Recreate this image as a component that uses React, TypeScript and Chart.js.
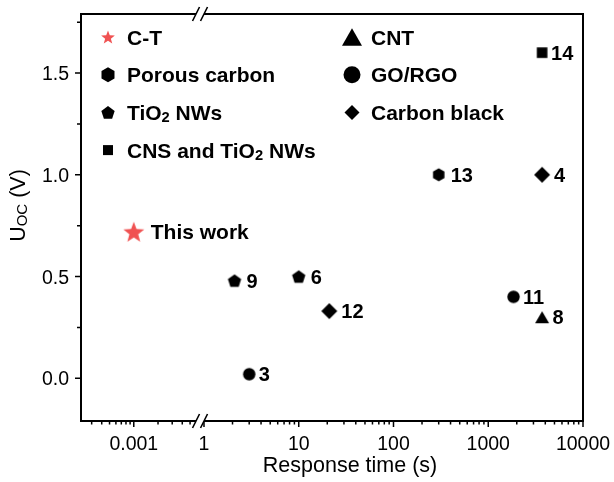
import React, { useEffect, useRef } from 'react';
import { Chart, registerables } from 'chart.js';

Chart.register(...registerables);

// ---------------- data ----------------
const categories = ['C-T', 'Porous carbon', 'TiO₂ NWs', 'CNS and TiO₂ NWs', 'CNT', 'GO/RGO', 'Carbon black'];

const ctTime = [0.001];
const ctUoc = [0.72];
const ctRefs = ['This work'];

const porousTime = [300];
const porousUoc = [1.0];
const porousRefs = ['13'];

const tio2Time = [2.1, 10];
const tio2Uoc = [0.48, 0.5];
const tio2Refs = ['9', '6'];

const cnsTime = [3700];
const cnsUoc = [1.6];
const cnsRefs = ['14'];

const cntTime = [3700];
const cntUoc = [0.3];
const cntRefs = ['8'];

const goTime = [3, 1850];
const goUoc = [0.02, 0.4];
const goRefs = ['3', '11'];

const cbTime = [3700, 21];
const cbUoc = [1.0, 0.33];
const cbRefs = ['4', '12'];

const xMajorTicks = [0.001, 1, 10, 100, 1000, 10000];
const xTickLabels = ['0.001', '1', '10', '100', '1000', '10000'];
const xLeftMinorTicks = [0.0003, 0.0004, 0.0005, 0.0006, 0.0007, 0.0008, 0.0009, 0.002, 0.003, 0.004, 0.005];
const xRightMantissas = [2, 3, 4, 5, 6, 7, 8, 9];
const xRightDecades = [1, 10, 100, 1000];
const yMajorTicks = [0, 0.5, 1, 1.5];
const yTickLabels = ['0.0', '0.5', '1.0', '1.5'];
const yMinorTicks = [0.25, 0.75, 1.25, 1.75];
const xAxisTitle = 'Response time (s)';
const yAxisTitle = [
  { t: 'U', sub: false },
  { t: 'OC', sub: true },
  { t: ' (V)', sub: false },
];

// ---------------- broken log axis transform ----------------
const LEFT_ANCHOR = -0.741; // position of 0.001 on the transformed axis
const LEFT_DECADE = 0.85; // left segment decade width (relative)
const BREAK_T = -0.042;
const X_MIN = -1.298;
const X_MAX = 4.0;
const Y_MIN = -0.21;
const Y_MAX = 1.79;

function tx(v: number): number {
  if (v < 0.05) return LEFT_ANCHOR + (Math.log10(v) + 3) * LEFT_DECADE;
  return Math.log10(v);
}

// ---------------- styles ----------------
const FONT = '"Liberation Sans", Arial, Helvetica, sans-serif';

type Shape = 'star' | 'hexagon' | 'pentagon' | 'square' | 'triangle' | 'circle' | 'diamond';
const styles: { shape: Shape; color: string; r: number; lr: number; gap: number; lfont: number }[] = [
  { shape: 'star', color: '#F05252', r: 11, lr: 7.2, gap: 17, lfont: 21 },
  { shape: 'hexagon', color: '#000000', r: 6.6, lr: 7.5, gap: 12, lfont: 20 },
  { shape: 'pentagon', color: '#000000', r: 7, lr: 7, gap: 12, lfont: 20 },
  { shape: 'square', color: '#000000', r: 5.3, lr: 5, gap: 9, lfont: 20 },
  { shape: 'triangle', color: '#000000', r: 7, lr: 10, gap: 10.5, lfont: 20 },
  { shape: 'circle', color: '#000000', r: 6.2, lr: 8.5, gap: 9.5, lfont: 20 },
  { shape: 'diamond', color: '#000000', r: 8, lr: 7.5, gap: 12, lfont: 20 },
];

function drawMarker(ctx: CanvasRenderingContext2D, shape: Shape, x: number, y: number, r: number, color: string) {
  ctx.save();
  ctx.fillStyle = color;
  ctx.beginPath();
  if (shape === 'star') {
    for (let i = 0; i < 10; i++) {
      const ang = -Math.PI / 2 + (i * Math.PI) / 5;
      const rad = i % 2 === 0 ? r : r * 0.42;
      const px = x + rad * Math.cos(ang);
      const py = y + rad * Math.sin(ang) + r * 0.1;
      if (i === 0) ctx.moveTo(px, py);
      else ctx.lineTo(px, py);
    }
  } else if (shape === 'hexagon' || shape === 'pentagon') {
    const n = shape === 'hexagon' ? 6 : 5;
    const dy = shape === 'pentagon' ? r * 0.1 : 0;
    for (let i = 0; i < n; i++) {
      const ang = -Math.PI / 2 + (i * 2 * Math.PI) / n;
      const px = x + r * Math.cos(ang);
      const py = y + r * Math.sin(ang) + dy;
      if (i === 0) ctx.moveTo(px, py);
      else ctx.lineTo(px, py);
    }
  } else if (shape === 'square') {
    ctx.rect(x - r, y - r, 2 * r, 2 * r);
  } else if (shape === 'triangle') {
    const h = r * 1.732;
    ctx.moveTo(x, y - h / 2);
    ctx.lineTo(x + r, y + h / 2);
    ctx.lineTo(x - r, y + h / 2);
  } else if (shape === 'circle') {
    ctx.arc(x, y, r, 0, Math.PI * 2);
  } else if (shape === 'diamond') {
    ctx.moveTo(x, y - r);
    ctx.lineTo(x + r, y);
    ctx.lineTo(x, y + r);
    ctx.lineTo(x - r, y);
  }
  ctx.closePath();
  ctx.fill();
  ctx.restore();
}

function markerCanvas(shape: Shape, r: number, color: string): HTMLCanvasElement {
  const size = Math.ceil(r * 2 + 4);
  const c = document.createElement('canvas');
  c.width = size;
  c.height = size;
  const cx = c.getContext('2d')!;
  drawMarker(cx, shape, size / 2, size / 2, r, color);
  return c;
}

const SUBS = '₀₁₂₃₄₅₆₇₈₉';
function toSegs(s: string): { t: string; sub: boolean }[] {
  const out: { t: string; sub: boolean }[] = [];
  for (const ch of s) {
    const i = SUBS.indexOf(ch);
    const sub = i >= 0;
    const c = sub ? String(i) : ch;
    const last = out[out.length - 1];
    if (last && last.sub === sub) last.t += c;
    else out.push({ t: c, sub });
  }
  return out;
}

function drawRich(
  ctx: CanvasRenderingContext2D,
  segs: { t: string; sub: boolean }[],
  x: number,
  y: number,
  size: number,
  weight: string,
  align: 'left' | 'center',
  subDrop: number,
) {
  const subSize = size * 0.7;
  const widths = segs.map((s) => {
    ctx.font = `${weight} ${s.sub ? subSize : size}px ${FONT}`;
    return ctx.measureText(s.t).width;
  });
  const total = widths.reduce((a, b) => a + b, 0);
  let cx = align === 'center' ? x - total / 2 : x;
  ctx.textAlign = 'left';
  ctx.textBaseline = 'alphabetic';
  segs.forEach((s, i) => {
    ctx.font = `${weight} ${s.sub ? subSize : size}px ${FONT}`;
    ctx.fillText(s.t, cx, s.sub ? y + subDrop : y);
    cx += widths[i];
  });
}

const seriesTimes = [ctTime, porousTime, tio2Time, cnsTime, cntTime, goTime, cbTime];
const seriesUocs = [ctUoc, porousUoc, tio2Uoc, cnsUoc, cntUoc, goUoc, cbUoc];
const seriesRefs = [ctRefs, porousRefs, tio2Refs, cnsRefs, cntRefs, goRefs, cbRefs];

const decorPlugin = {
  id: 'decor',
  afterDatasetsDraw(chart: any) {
    const { ctx, chartArea: a, scales } = chart;
    const xs = scales.x;
    const ys = scales.y;
    ctx.save();
    ctx.fillStyle = '#000';

    // point labels
    chart.data.datasets.forEach((ds: any, i: number) => {
      const meta = chart.getDatasetMeta(i);
      const st = styles[i];
      meta.data.forEach((pt: any, j: number) => {
        const txt = seriesRefs[i][j];
        ctx.font = `bold ${st.lfont}px ${FONT}`;
        ctx.textAlign = 'left';
        ctx.textBaseline = 'alphabetic';
        ctx.fillStyle = '#000';
        ctx.fillText(txt, pt.x + st.gap, pt.y + st.lfont * 0.36);
      });
    });

    // frame
    ctx.strokeStyle = '#000';
    ctx.lineWidth = 2;
    ctx.strokeRect(a.left, a.top, a.right - a.left, a.bottom - a.top);

    // ticks
    ctx.lineWidth = 1.5;
    ctx.beginPath();
    xMajorTicks.forEach((v) => {
      const px = xs.getPixelForValue(tx(v));
      ctx.moveTo(px, a.bottom);
      ctx.lineTo(px, a.bottom + 6);
    });
    const minor: number[] = [...xLeftMinorTicks];
    xRightDecades.forEach((d) => xRightMantissas.forEach((m) => minor.push(d * m)));
    minor.forEach((v) => {
      const px = xs.getPixelForValue(tx(v));
      ctx.moveTo(px, a.bottom);
      ctx.lineTo(px, a.bottom + 3.5);
    });
    yMajorTicks.forEach((v) => {
      const py = ys.getPixelForValue(v);
      ctx.moveTo(a.left, py);
      ctx.lineTo(a.left - 6, py);
    });
    yMinorTicks.forEach((v) => {
      const py = ys.getPixelForValue(v);
      ctx.moveTo(a.left, py);
      ctx.lineTo(a.left - 4, py);
    });
    ctx.stroke();

    // axis breaks
    const bx = xs.getPixelForValue(BREAK_T);
    [a.top, a.bottom].forEach((yy: number) => {
      ctx.fillStyle = '#fff';
      ctx.fillRect(bx - 4, yy - 2, 8, 4);
      ctx.strokeStyle = '#000';
      ctx.lineWidth = 1.6;
      ctx.beginPath();
      [-4, 4].forEach((dx) => {
        ctx.moveTo(bx + dx - 3.5, yy + 7);
        ctx.lineTo(bx + dx + 3.5, yy - 7);
      });
      ctx.stroke();
    });

    // tick labels
    ctx.fillStyle = '#000';
    ctx.font = `19.5px ${FONT}`;
    ctx.textAlign = 'center';
    ctx.textBaseline = 'alphabetic';
    xMajorTicks.forEach((v, i) => {
      ctx.fillText(xTickLabels[i], xs.getPixelForValue(tx(v)), a.bottom + 29);
    });
    ctx.textAlign = 'right';
    yMajorTicks.forEach((v, i) => {
      ctx.fillText(yTickLabels[i], a.left - 12, ys.getPixelForValue(v) + 7);
    });

    // axis titles
    ctx.font = `21.5px ${FONT}`;
    ctx.textAlign = 'center';
    ctx.fillText(xAxisTitle, (a.left + a.right) / 2 + 18, a.bottom + 51);

    ctx.save();
    ctx.translate(a.left - 56, (a.top + a.bottom) / 2 - 12);
    ctx.rotate(-Math.PI / 2);
    drawRich(ctx, yAxisTitle, 0, 0, 21.5, 'normal', 'center', 1.5);
    ctx.restore();

    // legend
    const colX = [a.left + 27, a.left + 271];
    const textDx = 19;
    categories.forEach((name, i) => {
      const col = i < 4 ? 0 : 1;
      const row = i < 4 ? i : i - 4;
      const cy = a.top + 23 + row * 37.7;
      const st = styles[i];
      drawMarker(ctx, st.shape, colX[col], cy, st.lr, st.color);
      ctx.fillStyle = '#000';
      drawRich(ctx, toSegs(name), colX[col] + textDx, cy + 7.6, 21, 'bold', 'left', 2);
    });

    ctx.restore();
  },
};

export default function App() {
  const ref = useRef<HTMLCanvasElement>(null);

  useEffect(() => {
    document.body.style.margin = '0';
    const canvas = ref.current!;
    const datasets = categories.map((name, i) => ({
      label: name,
      data: seriesTimes[i].map((t, j) => ({ x: tx(t), y: seriesUocs[i][j] })),
      pointStyle: markerCanvas(styles[i].shape, styles[i].r, styles[i].color) as any,
      pointRadius: styles[i].r,
      backgroundColor: styles[i].color,
      borderColor: styles[i].color,
      showLine: false,
    }));
    const chart = new Chart(canvas, {
      type: 'scatter',
      data: { datasets },
      options: {
        animation: false,
        responsive: false,
        layout: { padding: { left: 81, right: 31, top: 14, bottom: 61 } },
        scales: {
          x: { type: 'linear', display: false, min: X_MIN, max: X_MAX },
          y: { type: 'linear', display: false, min: Y_MIN, max: Y_MAX },
        },
        plugins: {
          legend: { display: false },
          tooltip: { enabled: false },
        },
      },
      plugins: [decorPlugin as any],
    });
    return () => chart.destroy();
  }, []);

  return (
    <div style={{ width: 614, height: 482, background: '#fff' }}>
      <canvas ref={ref} width={614} height={482} style={{ display: 'block' }} />
    </div>
  );
}
